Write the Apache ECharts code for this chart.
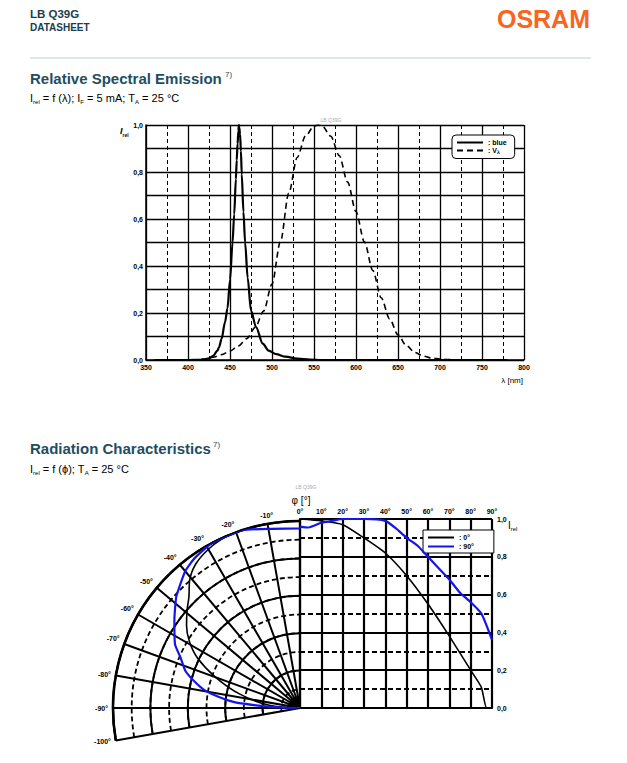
<!DOCTYPE html>
<html><head><meta charset="utf-8">
<script src="https://cdn.jsdelivr.net/npm/echarts@6/dist/echarts.min.js"></script>
<style>html,body{margin:0;padding:0;background:#fff}#c{width:627px;height:763px}</style>
</head><body><div id="c"></div>
<script>
// ---- Relative spectral emission ----
const blueWavelength = [360,400,415,420,425,430,435,437,440,444,447,450,453,455,457,458,459,460,460.5,461,462,463,464,466,468,471,475,481,489,496,505,516,530,545,560,600,700,780];
const blueIntensity  = [0,0,0.001,0.003,0.007,0.018,0.04,0.055,0.09,0.16,0.22,0.34,0.5,0.62,0.77,0.85,0.92,0.975,1.0,0.99,0.96,0.89,0.79,0.63,0.5,0.35,0.21,0.14,0.07,0.04,0.025,0.014,0.006,0.002,0,0,0,0];
const vWavelength = [380,390,400,410,420,430,440,450,460,470,480,490,500,510,520,530,540,550,555,560,570,580,590,600,610,620,630,640,650,660,670,680,690,700,710,720,740,760,780];
const vIntensity  = [0,0.0001,0.0004,0.0012,0.004,0.0116,0.023,0.038,0.06,0.091,0.139,0.208,0.323,0.503,0.71,0.862,0.954,0.995,1.0,0.995,0.952,0.87,0.757,0.631,0.503,0.381,0.265,0.175,0.107,0.061,0.032,0.017,0.0082,0.0041,0.0021,0.001,0.0003,0.0001,0];

// ---- Radiation characteristics: polar half (negative angles) ----
const polarAngle0 = [0,-10,-20,-25,-30,-36,-41,-45,-49,-54,-59,-64,-70,-77,-85,-90];
const polarI0     = [1.0,1.0,1.0,0.995,0.98,0.95,0.90,0.84,0.80,0.75,0.69,0.61,0.48,0.33,0.165,0];
const polarAngle90 = [0,-9,-18,-28,-35,-40,-48,-55,-63,-67,-72,-76,-79.6,-82.5,-85,-87.6,-89,-90];
const polarI90     = [0.96,0.97,1.0,1.0,0.98,0.955,0.89,0.82,0.75,0.695,0.645,0.58,0.515,0.43,0.347,0.17,0.08,0];

// ---- Radiation characteristics: cartesian half (positive angles) ----
const cartAngle0 = [0,10,20,30,40,50,60,70,80,85,87.5,90];
const cartI0     = [1.0,0.99,0.97,0.90,0.82,0.70,0.55,0.38,0.20,0.11,0,0];
const cartAngle90 = [0,4,10,15,20,30,40,45,50,55,60,65,70,75,80,85,90];
const cartI90     = [0.96,0.955,0.98,0.99,1.0,1.0,0.99,0.95,0.90,0.86,0.80,0.74,0.68,0.61,0.56,0.50,0.36];

const legendSpectral = ['blue','V_λ'];
const legendRadiation = ['0°','90°'];

const FONT = "'Liberation Sans', Arial, Helvetica, sans-serif";
const TEAL = '#1f4d62';
const BLUE = '#1414ee';
const zip = (a,b) => a.map((v,i) => [v, b[i]]);
const comma = v => v.toFixed(1).replace('.', ',');
const lab = {fontSize:7, fontWeight:'bold', color:'#000', fontFamily:FONT};
const sub = {fontSize:6, verticalAlign:'bottom', lineHeight:14, fontFamily:FONT};
const noSym = {color:'transparent', borderColor:'transparent', borderWidth:0, opacity:0};

const chart = echarts.init(document.getElementById('c'), null, {renderer:'svg'});

const txt = (x, y, text, o) => ({type:'text', x, y, silent:true, style:Object.assign({text, fontFamily:FONT, fill:'#000', textVerticalAlign:'middle'}, o||{})});

const angleBase = {type:'value', min:-100, max:0, interval:10, startAngle:190, endAngle:90, clockwise:true};

const option = {
  animation:false,
  backgroundColor:'#fff',
  textStyle:{fontFamily:FONT},
  grid:[
    {left:146, top:125, width:378, height:235},
    {left:300, top:519, width:192, height:189}
  ],
  xAxis:[
    {gridIndex:0, type:'value', min:350, max:800, interval:50,
     axisLine:{lineStyle:{color:'#000', width:1.5}}, axisTick:{show:false},
     axisLabel:Object.assign({margin:4}, lab),
     splitLine:{lineStyle:{color:'#000', width:1.3}},
     minorTick:{show:false, splitNumber:2},
     minorSplitLine:{show:true, lineStyle:{color:'#000', width:1, type:[4,3]}}},
    {gridIndex:1, type:'value', position:'top', min:0, max:90, interval:10,
     axisLine:{lineStyle:{color:'#000', width:2.2}}, axisTick:{show:false},
     axisLabel:Object.assign({margin:4, formatter:v => v + '°'}, lab),
     splitLine:{lineStyle:{color:'#000', width:2.2}}}
  ],
  yAxis:[
    {gridIndex:0, type:'value', min:0, max:1, interval:0.2,
     axisLine:{show:true, lineStyle:{color:'#000', width:1.5}}, axisTick:{show:false},
     axisLabel:Object.assign({margin:3, formatter:comma}, lab),
     splitLine:{lineStyle:{color:'#000', width:1.3}},
     minorTick:{show:false, splitNumber:2},
     minorSplitLine:{show:true, lineStyle:{color:'#000', width:1.3}}},
    {gridIndex:1, type:'value', position:'right', min:0, max:1, interval:0.2,
     axisLine:{show:true, lineStyle:{color:'#000', width:2.2}}, axisTick:{show:false},
     axisLabel:Object.assign({margin:5, formatter:comma}, lab),
     splitLine:{lineStyle:{color:'#000', width:2.2}},
     minorTick:{show:false, splitNumber:2},
     minorSplitLine:{show:true, lineStyle:{color:'#000', width:1.8, type:[5,3]}}}
  ],
  polar:[
    {center:[300,708], radius:187},
    {center:[300,708], radius:187}
  ],
  angleAxis:[
    Object.assign({polarIndex:0, z:3,
      axisLine:{lineStyle:{color:'#000', width:2.6}}, axisTick:{show:false},
      axisLabel:Object.assign({margin:5, formatter:v => v === 0 ? '' : v + '°'}, lab),
      splitLine:{lineStyle:{color:'#000', width:2}}}, angleBase),
    Object.assign({polarIndex:1, z:1,
      axisLine:{show:false}, axisTick:{show:false}, axisLabel:{show:false}, splitLine:{show:false}}, angleBase)
  ],
  radiusAxis:[
    {polarIndex:0, z:3, type:'value', min:0, max:1, interval:0.2,
     axisLine:{show:false}, axisTick:{show:false}, axisLabel:{show:false},
     splitLine:{lineStyle:{color:'#000', width:2}}},
    {polarIndex:1, z:1, type:'value', min:0, max:1, interval:0.1,
     axisLine:{show:false}, axisTick:{show:false}, axisLabel:{show:false},
     splitLine:{lineStyle:{color:'#000', width:1.8, type:[5,3]}}}
  ],
  legend:[
    {data:legendSpectral, selectedMode:false, orient:'vertical', left:452, top:135,
     itemWidth:26, itemHeight:8, itemGap:1, padding:[4,8,4,4], itemStyle:noSym,
     borderColor:'#000', borderWidth:1, borderRadius:4, backgroundColor:'#fff',
     textStyle:{fontSize:7, fontWeight:'bold', color:'#000', rich:{s:{fontSize:5, padding:[3,0,0,0], fontWeight:'bold'}}},
     formatter:n => n === 'V_λ' ? ': V{s|λ}' : ': ' + n},
    {data:legendRadiation, selectedMode:false, orient:'vertical', left:423, top:530,
     itemWidth:26, itemHeight:8, itemGap:2, padding:[4,20,3,4], itemStyle:noSym,
     borderColor:'#000', borderWidth:1, borderRadius:0, backgroundColor:'#fff',
     textStyle:{fontSize:7, fontWeight:'bold', color:'#000'},
     formatter:n => ': ' + n}
  ],
  series:[
    {name:'blue', type:'line', xAxisIndex:0, yAxisIndex:0, data:zip(blueWavelength, blueIntensity),
     symbol:'none', smooth:0.3, smoothMonotone:'x', itemStyle:{color:'#000'}, lineStyle:{color:'#000', width:2.2}, z:5},
    {name:'V_λ', type:'line', xAxisIndex:0, yAxisIndex:0, data:zip(vWavelength, vIntensity),
     symbol:'none', smooth:0.3, smoothMonotone:'x', itemStyle:{color:'#000'}, lineStyle:{color:'#000', width:1.6, type:[6,4]}, z:5},
    {name:'0°', type:'line', coordinateSystem:'polar', polarIndex:0, data:zip(polarI0, polarAngle0),
     symbol:'none', smooth:0.3, itemStyle:{color:'#000'}, lineStyle:{color:'#000', width:1.6}, z:5},
    {name:'90°', type:'line', coordinateSystem:'polar', polarIndex:0, data:zip(polarI90, polarAngle90),
     symbol:'none', smooth:0.15, itemStyle:{color:BLUE}, lineStyle:{color:BLUE, width:2.2}, z:6},
    {name:'0°', type:'line', xAxisIndex:1, yAxisIndex:1, data:zip(cartAngle0, cartI0),
     symbol:'none', smooth:0.2, itemStyle:{color:'#000'}, lineStyle:{color:'#000', width:1.6}, z:5},
    {name:'90°', type:'line', xAxisIndex:1, yAxisIndex:1, data:zip(cartAngle90, cartI90),
     symbol:'none', smooth:0.2, itemStyle:{color:BLUE}, lineStyle:{color:BLUE, width:2.2}, z:6}
  ],
  graphic:[
    txt(30, 14, 'LB Q39G', {fontSize:11.5, fontWeight:'bold', fill:'#1b3c50'}),
    txt(30, 27, 'DATASHEET', {fontSize:10, fontWeight:'bold', fill:'#1b3c50'}),
    txt(590, 19, 'OSRAM', {fontSize:25, fontWeight:'bold', fill:'#f7661e', textAlign:'right'}),
    {type:'line', silent:true, shape:{x1:30, y1:58, x2:591, y2:58}, style:{stroke:'#dfe6ec', lineWidth:2}},
    txt(30, 78, 'Relative Spectral Emission', {fontSize:15, fontWeight:'bold', fill:TEAL}),
    txt(225, 74, '7)', {fontSize:8, fill:TEAL}),
    txt(30, 98, 'I{s|rel} = f (λ); I{s|F} = 5 mA; T{s|A} = 25 °C', {fontSize:11, lineHeight:14, rich:{s:sub}}),
    txt(120, 131, 'I{s|rel}', {fontSize:9, fontStyle:'italic', fontWeight:'bold', lineHeight:12, rich:{s:{fontSize:5, verticalAlign:'bottom', lineHeight:12, fontWeight:'bold', fontStyle:'normal'}}}),
    txt(331, 120, 'LB Q39G', {fontSize:5, fill:'#aaaaaa', textAlign:'center'}),
    txt(523, 380, 'λ [nm]', {fontSize:8, textAlign:'right'}),
    txt(30, 448, 'Radiation Characteristics', {fontSize:15, fontWeight:'bold', fill:TEAL}),
    txt(213, 444, '7)', {fontSize:8, fill:TEAL}),
    txt(30, 469, 'I{s|rel} = f (ϕ); T{s|A} = 25 °C', {fontSize:11, lineHeight:14, rich:{s:sub}}),
    txt(306, 487, 'LB Q39G', {fontSize:5, fill:'#aaaaaa', textAlign:'center'}),
    txt(301, 500, 'φ [°]', {fontSize:10, textAlign:'center'}),
    txt(508, 525, 'I{s|rel}', {fontSize:10, lineHeight:13, rich:{s:{fontSize:6, verticalAlign:'bottom', lineHeight:13}}})
  ]
};
chart.setOption(option);
</script></body></html>
